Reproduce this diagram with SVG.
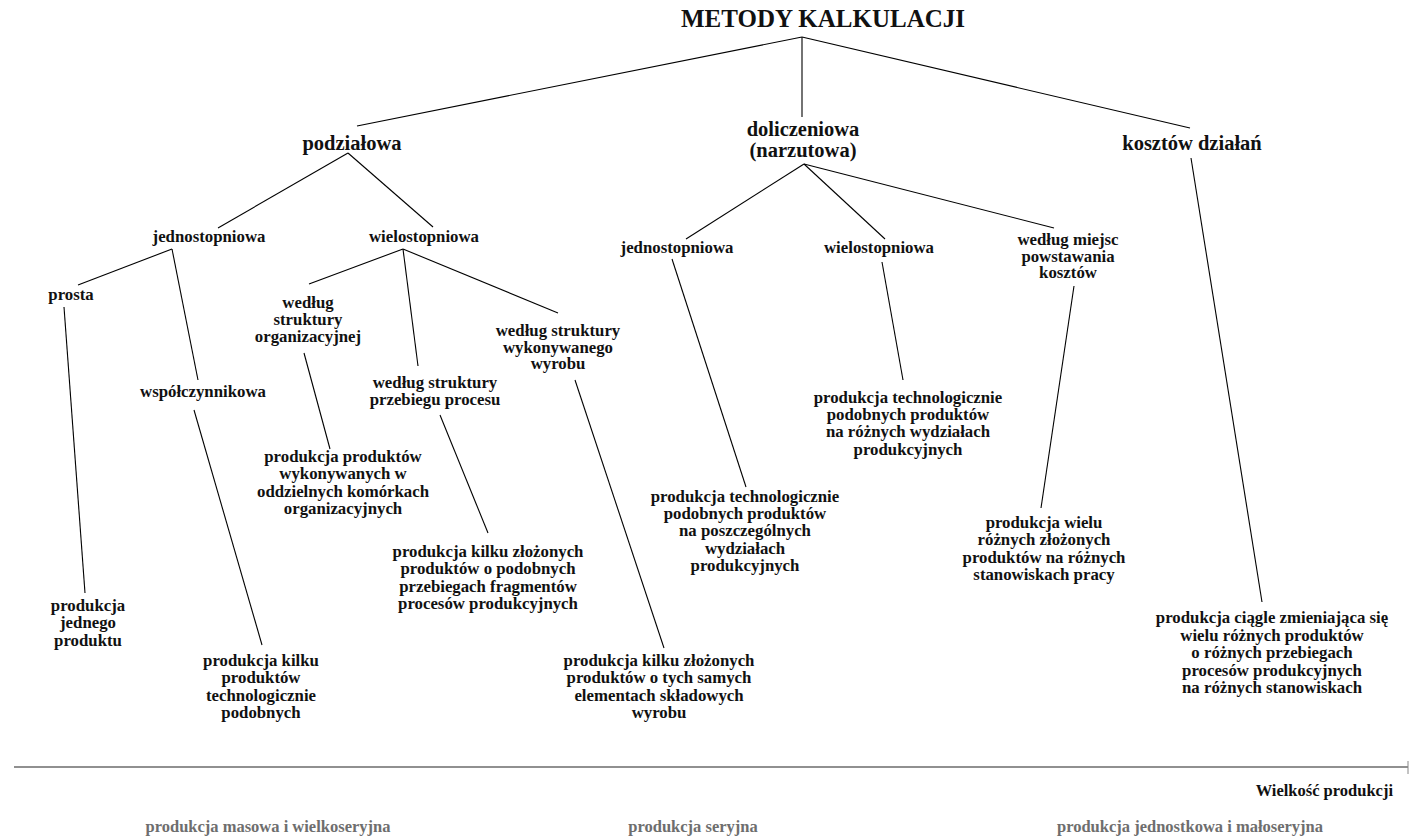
<svg xmlns="http://www.w3.org/2000/svg" width="1409" height="839" viewBox="0 0 1409 839">
  <style>
    text { font-family: "Liberation Serif", "Times New Roman", serif; font-weight: bold; text-anchor: middle; fill: #111; }
    .title { font-size: 25px; }
    .l1 { font-size: 20.5px; }
    .n { font-size: 16.8px; }
    .axis-label { font-size: 16.5px; text-anchor: end; }
    .scale { font-size: 16.5px; fill: #6e6e6e; }
    .edge { stroke: #000; stroke-width: 1.1; fill: none; }
  </style>
  <rect width="1409" height="839" fill="#fff"/>

  <!-- tree connectors -->
  <g id="connectors">
    <line class="edge" x1="802" y1="37" x2="357" y2="126"/>
    <line class="edge" x1="802" y1="37" x2="802" y2="117"/>
    <line class="edge" x1="802" y1="37" x2="1190" y2="128"/>

    <line class="edge" x1="348" y1="153" x2="218" y2="228"/>
    <line class="edge" x1="348" y1="153" x2="433" y2="227"/>

    <line class="edge" x1="172" y1="249" x2="78" y2="285"/>
    <line class="edge" x1="172" y1="249" x2="198" y2="380"/>
    <line class="edge" x1="64" y1="307" x2="85" y2="593"/>
    <line class="edge" x1="194" y1="410" x2="262" y2="645"/>

    <line class="edge" x1="403" y1="249" x2="309" y2="284"/>
    <line class="edge" x1="403" y1="249" x2="418" y2="366"/>
    <line class="edge" x1="403" y1="249" x2="558" y2="313"/>
    <line class="edge" x1="304" y1="353" x2="330" y2="449" stroke-width="1.6"/>
    <line class="edge" x1="440" y1="415" x2="488" y2="533"/>
    <line class="edge" x1="575" y1="380" x2="664" y2="648"/>

    <line class="edge" x1="804" y1="164" x2="686" y2="239"/>
    <line class="edge" x1="804" y1="164" x2="885" y2="239"/>
    <line class="edge" x1="804" y1="164" x2="1054" y2="228"/>
    <line class="edge" x1="672" y1="259" x2="746" y2="487"/>
    <line class="edge" x1="882" y1="262" x2="903" y2="380"/>
    <line class="edge" x1="1074" y1="286" x2="1041" y2="508"/>

    <line class="edge" x1="1191" y1="158" x2="1262" y2="602"/>
  </g>

  <!-- root -->
  <g id="root"><text class="title" x="823" y="27">METODY KALKULACJI</text></g>

  <!-- first level -->
  <g id="podzialowa"><text class="l1" x="352" y="150">podziałowa</text></g>
  <g id="doliczeniowa"><text class="l1" x="803" y="136">doliczeniowa<tspan x="803" dy="21">(narzutowa)</tspan></text></g>
  <g id="kosztow-dzialan"><text class="l1" x="1192" y="150">kosztów działań</text></g>

  <!-- podziałowa branch -->
  <g id="p-jednostopniowa"><text class="n" x="209" y="242">jednostopniowa</text></g>
  <g id="p-wielostopniowa"><text class="n" x="424" y="242">wielostopniowa</text></g>
  <g id="prosta"><text class="n" x="71" y="300">prosta</text></g>
  <g id="wspolczynnikowa"><text class="n" x="203" y="397">współczynnikowa</text></g>
  <g id="struktura-org"><text class="n" x="308" y="308">według<tspan x="308" dy="17">struktury</tspan><tspan x="308" dy="17">organizacyjnej</tspan></text></g>
  <g id="struktura-proc"><text class="n" x="435" y="388">według struktury<tspan x="435" dy="17">przebiegu procesu</tspan></text></g>
  <g id="struktura-wyr"><text class="n" x="558" y="336">według struktury<tspan x="558" dy="16.5">wykonywanego</tspan><tspan x="558" dy="16.5">wyrobu</tspan></text></g>

  <g id="leaf-jednego"><text class="n" x="88" y="611">produkcja<tspan x="88" dy="17.3">jednego</tspan><tspan x="88" dy="17.3">produktu</tspan></text></g>
  <g id="leaf-kilku-podobnych"><text class="n" x="261" y="666">produkcja kilku<tspan x="261" dy="17.3">produktów</tspan><tspan x="261" dy="17.3">technologicznie</tspan><tspan x="261" dy="17.3">podobnych</tspan></text></g>
  <g id="leaf-komorki"><text class="n" x="343" y="462">produkcja produktów<tspan x="343" dy="17.3">wykonywanych w</tspan><tspan x="343" dy="17.3">oddzielnych komórkach</tspan><tspan x="343" dy="17.3">organizacyjnych</tspan></text></g>
  <g id="leaf-przebiegi"><text class="n" x="488" y="557">produkcja kilku złożonych<tspan x="488" dy="17.3">produktów o podobnych</tspan><tspan x="488" dy="17.3">przebiegach fragmentów</tspan><tspan x="488" dy="17.3">procesów produkcyjnych</tspan></text></g>
  <g id="leaf-elementy"><text class="n" x="659" y="666">produkcja kilku złożonych<tspan x="659" dy="17.3">produktów o tych samych</tspan><tspan x="659" dy="17.3">elementach składowych</tspan><tspan x="659" dy="17.3">wyrobu</tspan></text></g>

  <!-- doliczeniowa branch -->
  <g id="d-jednostopniowa"><text class="n" x="677" y="253">jednostopniowa</text></g>
  <g id="d-wielostopniowa"><text class="n" x="879" y="253">wielostopniowa</text></g>
  <g id="miejsca-kosztow"><text class="n" x="1068" y="245">według miejsc<tspan x="1068" dy="16.5">powstawania</tspan><tspan x="1068" dy="16.5">kosztów</tspan></text></g>

  <g id="leaf-poszczegolne"><text class="n" x="745" y="502">produkcja technologicznie<tspan x="745" dy="17.2">podobnych produktów</tspan><tspan x="745" dy="17.2">na poszczególnych</tspan><tspan x="745" dy="17.2">wydziałach</tspan><tspan x="745" dy="17.2">produkcyjnych</tspan></text></g>
  <g id="leaf-rozne-wydzialy"><text class="n" x="908" y="403">produkcja technologicznie<tspan x="908" dy="17.2">podobnych produktów</tspan><tspan x="908" dy="17.2">na różnych wydziałach</tspan><tspan x="908" dy="17.2">produkcyjnych</tspan></text></g>
  <g id="leaf-stanowiska"><text class="n" x="1044" y="528">produkcja wielu<tspan x="1044" dy="17.3">różnych złożonych</tspan><tspan x="1044" dy="17.3">produktów na różnych</tspan><tspan x="1044" dy="17.3">stanowiskach pracy</tspan></text></g>

  <!-- kosztów działań branch -->
  <g id="leaf-zmienna"><text class="n" x="1272" y="623">produkcja ciągle zmieniająca się<tspan x="1272" dy="17.5">wielu różnych produktów</tspan><tspan x="1272" dy="17.5">o różnych przebiegach</tspan><tspan x="1272" dy="17.5">procesów produkcyjnych</tspan><tspan x="1272" dy="17.5">na różnych stanowiskach</tspan></text></g>

  <!-- production volume scale -->
  <g id="scale">
    <line x1="14" y1="767" x2="1408" y2="767" stroke="#222" stroke-width="1.1"/>
    <line x1="1408" y1="761" x2="1408" y2="774" stroke="#888" stroke-width="1"/>
    <text class="axis-label" x="1393" y="796">Wielkość produkcji</text>
    <text class="scale" x="268" y="832">produkcja masowa i wielkoseryjna</text>
    <text class="scale" x="693" y="832">produkcja seryjna</text>
    <text class="scale" x="1190" y="832">produkcja jednostkowa i małoseryjna</text>
  </g>
</svg>
